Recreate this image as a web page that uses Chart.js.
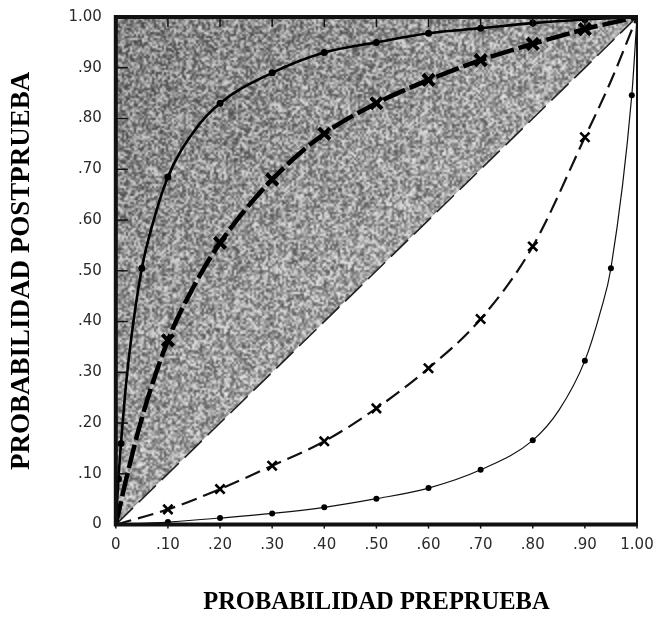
<!DOCTYPE html>
<html>
<head>
<meta charset="utf-8">
<script src="https://cdn.jsdelivr.net/npm/chart.js@4.4.1/dist/chart.umd.min.js"></script>
<style>
  html, body { margin: 0; padding: 0; background: #fff; }
  #grafico { display: block; }
</style>
</head>
<body>
<canvas id="grafico" width="657" height="617"></canvas>
<script>
// Probabilidad preprueba (x) y postprueba (y), una curva por razon de verosimilitud
const curvaA_x = [0, 0.005, 0.01, 0.02, 0.03, 0.05, 0.07, 0.10, 0.15, 0.20, 0.30, 0.40, 0.50, 0.60, 0.70, 0.80, 0.90, 1.00];
const curvaA_y = [0, 0.09, 0.16, 0.28, 0.37, 0.505, 0.59, 0.685, 0.775, 0.83, 0.89, 0.93, 0.95, 0.968, 0.978, 0.988, 0.995, 1.00];
const curvaA_marcas = [0.005, 0.01, 0.05, 0.10, 0.20, 0.30, 0.40, 0.50, 0.60, 0.70, 0.80, 0.90];

const curvaB_x = [0, 0.02, 0.05, 0.10, 0.15, 0.20, 0.30, 0.40, 0.50, 0.60, 0.70, 0.80, 0.90, 1.00];
const curvaB_y = [0, 0.09, 0.21, 0.363, 0.47, 0.555, 0.68, 0.77, 0.83, 0.876, 0.915, 0.947, 0.976, 1.00];
const curvaB_marcas = [0.10, 0.20, 0.30, 0.40, 0.50, 0.60, 0.70, 0.80, 0.90];

const curvaC_x = [0, 0.10, 0.20, 0.30, 0.40, 0.50, 0.60, 0.70, 0.80, 0.90, 0.95, 1.00];
const curvaC_y = [0, 0.03, 0.07, 0.116, 0.164, 0.229, 0.308, 0.405, 0.548, 0.763, 0.874, 1.00];
const curvaC_marcas = [0.10, 0.20, 0.30, 0.40, 0.50, 0.60, 0.70, 0.80, 0.90];

const curvaD_x = [0, 0.10, 0.20, 0.30, 0.40, 0.50, 0.60, 0.70, 0.80, 0.85, 0.90, 0.93, 0.95, 0.99, 1.00];
const curvaD_y = [0, 0.005, 0.013, 0.022, 0.034, 0.051, 0.072, 0.108, 0.166, 0.225, 0.323, 0.42, 0.505, 0.846, 1.00];
const curvaD_marcas = [0.10, 0.20, 0.30, 0.40, 0.50, 0.60, 0.70, 0.80, 0.90, 0.95, 0.99];

const diagonal_x = [0, 1];
const diagonal_y = [0, 1];

const marcasEje = [0, 0.1, 0.2, 0.3, 0.4, 0.5, 0.6, 0.7, 0.8, 0.9, 1.0];

function puntos(xs, ys) {
    return xs.map((x, i) => ({ x: x, y: ys[i] }));
}

// Texto de las marcas: 0, .10, .20 ... 1.00
function etiqueta(v) {
    let r = Math.round(v * 100) / 100;
    if (r === 0) return "0";
    if (r === 1) return "1.00";
    return r.toFixed(2).slice(1);
}

// Textura gris moteada para la zona sombreada (semilla fija)
let texturaCache = null;
function textura(chart) {
    const area = chart.chartArea;
    if (!area) return "#999";
    if (texturaCache) return texturaCache;
    const w = chart.width, h = chart.height;
    // grano a media resolucion, luego se escala
    const chico = document.createElement("canvas");
    chico.width = Math.ceil(w / 2);
    chico.height = Math.ceil(h / 2);
    const c = chico.getContext("2d");
    const img = c.createImageData(chico.width, chico.height);
    let semilla = 98765;
    const azar = () => {
        semilla = (semilla * 1103515245 + 12345) & 0x7fffffff;
        return semilla / 0x7fffffff;
    };
    for (let py = 0; py < chico.height; py++) {
        for (let px = 0; px < chico.width; px++) {
            const u = (px * 2 - area.left) / (area.right - area.left);
            const v = (py * 2 - area.top) / (area.bottom - area.top);
            const t = Math.min(1, Math.max(0, (u + v) * 0.65));
            const base = 132 + 48 * t;
            const g = Math.max(30, Math.min(250, base + (azar() - 0.5) * 150));
            const k = (py * chico.width + px) * 4;
            img.data[k] = g; img.data[k + 1] = g; img.data[k + 2] = g; img.data[k + 3] = 255;
        }
    }
    c.putImageData(img, 0, 0);
    const grande = document.createElement("canvas");
    grande.width = w;
    grande.height = h;
    const g2 = grande.getContext("2d");
    g2.filter = "blur(0.5px)";
    g2.drawImage(chico, 0, 0, chico.width * 2, chico.height * 2);
    texturaCache = chart.ctx.createPattern(grande, "no-repeat");
    return texturaCache;
}

// Marco del grafico y marcas hacia dentro
const marcoPlugin = {
    id: "marco",
    afterDatasetsDraw(chart) {
        const { ctx, chartArea: a, scales } = chart;
        ctx.save();
        ctx.strokeStyle = "#111";
        ctx.lineCap = "butt";
        ctx.lineWidth = 1.5;
        marcasEje.forEach(v => {
            const py = scales.y.getPixelForValue(v);
            const px = scales.x.getPixelForValue(v);
            ctx.beginPath();
            ctx.moveTo(a.left, py);
            ctx.lineTo(a.left + 12, py);
            ctx.stroke();
            ctx.beginPath();
            ctx.moveTo(px, a.top);
            ctx.lineTo(px, a.top + 10);
            ctx.stroke();
            ctx.beginPath();
            ctx.moveTo(px, a.bottom);
            ctx.lineTo(px, a.bottom + 4);
            ctx.stroke();
        });
        ctx.lineWidth = 2;
        ctx.beginPath();
        ctx.moveTo(a.right, a.top);
        ctx.lineTo(a.right, a.bottom);
        ctx.stroke();
        ctx.lineWidth = 4;
        ctx.beginPath();
        ctx.moveTo(a.right + 1, a.top);
        ctx.lineTo(a.left, a.top);
        ctx.lineTo(a.left, a.bottom);
        ctx.lineTo(a.right + 1, a.bottom);
        ctx.stroke();
        ctx.restore();
    }
};

function marcaRadio(marcas, r) {
    return ctx => {
        const p = ctx.raw;
        return p && marcas.some(m => Math.abs(m - p.x) < 1e-9) ? r : 0;
    };
}

const ctx = document.getElementById("grafico").getContext("2d");
const grafico = new Chart(ctx, {
    type: "line",
    data: {
        datasets: [
            {
                label: "zona",
                data: puntos(diagonal_x, diagonal_y),
                borderColor: "#222",
                borderWidth: 1.6,
                borderDash: [24, 8],
                pointRadius: 0,
                fill: "end",
                backgroundColor: c => textura(c.chart),
                tension: 0,
                order: 5
            },
            {
                label: "A",
                data: puntos(curvaA_x, curvaA_y),
                borderColor: "#000",
                borderWidth: 2.6,
                pointStyle: "circle",
                pointRadius: marcaRadio(curvaA_marcas, 3.5),
                pointBackgroundColor: "#000",
                pointBorderColor: "#000",
                pointBorderWidth: 0,
                cubicInterpolationMode: "monotone",
                fill: false,
                order: 1
            },
            {
                label: "B",
                data: puntos(curvaB_x, curvaB_y),
                borderColor: "#000",
                borderWidth: 4.5,
                borderDash: [24, 5],
                pointStyle: "crossRot",
                pointRadius: marcaRadio(curvaB_marcas, 8),
                pointBorderColor: "#000",
                pointBorderWidth: 4,
                cubicInterpolationMode: "monotone",
                fill: false,
                order: 2
            },
            {
                label: "C",
                data: puntos(curvaC_x, curvaC_y),
                borderColor: "#111",
                borderWidth: 2.2,
                borderDash: [16, 7],
                pointStyle: "crossRot",
                pointRadius: marcaRadio(curvaC_marcas, 6.5),
                pointBorderColor: "#000",
                pointBorderWidth: 2.6,
                cubicInterpolationMode: "monotone",
                fill: false,
                order: 3
            },
            {
                label: "D",
                data: puntos(curvaD_x, curvaD_y),
                borderColor: "#111",
                borderWidth: 1.2,
                pointStyle: "circle",
                pointRadius: marcaRadio(curvaD_marcas, 3),
                pointBackgroundColor: "#000",
                pointBorderColor: "#000",
                pointBorderWidth: 0,
                cubicInterpolationMode: "monotone",
                fill: false,
                order: 4
            }
        ]
    },
    options: {
        responsive: false,
        animation: false,
        layout: { padding: { left: 6, right: 0, top: 0, bottom: 0 } },
        plugins: {
            legend: { display: false },
            tooltip: { enabled: false }
        },
        scales: {
            x: {
                type: "linear",
                min: 0,
                max: 1,
                afterBuildTicks: eje => { eje.ticks = marcasEje.map(v => ({ value: v })); },
                afterFit: eje => { eje.paddingRight = 20; },
                grid: { display: false, drawTicks: false },
                border: { display: false },
                ticks: {
                    padding: 12,
                    color: "#2a2a2a",
                    font: { family: "DejaVu Sans", size: 15 },
                    maxRotation: 0,
                    callback: v => etiqueta(v)
                },
                title: {
                    display: true,
                    text: "PROBABILIDAD PREPRUEBA",
                    color: "#000",
                    font: { family: "Liberation Serif", size: 24.5, weight: "bold" },
                    padding: { top: 21, bottom: 0 }
                }
            },
            y: {
                type: "linear",
                min: 0,
                max: 1,
                afterBuildTicks: eje => { eje.ticks = marcasEje.map(v => ({ value: v })); },
                afterFit: eje => { eje.paddingTop = 17; },
                grid: { display: false, drawTicks: false },
                border: { display: false },
                ticks: {
                    padding: 14,
                    color: "#2a2a2a",
                    font: { family: "DejaVu Sans", size: 15 },
                    callback: v => etiqueta(v)
                },
                title: {
                    display: true,
                    text: "PROBABILIDAD POSTPRUEBA",
                    color: "#000",
                    font: { family: "Liberation Serif", size: 27, weight: "bold" },
                    padding: { top: 0, bottom: 16 }
                }
            }
        }
    },
    plugins: [marcoPlugin]
});
</script>
</body>
</html>
